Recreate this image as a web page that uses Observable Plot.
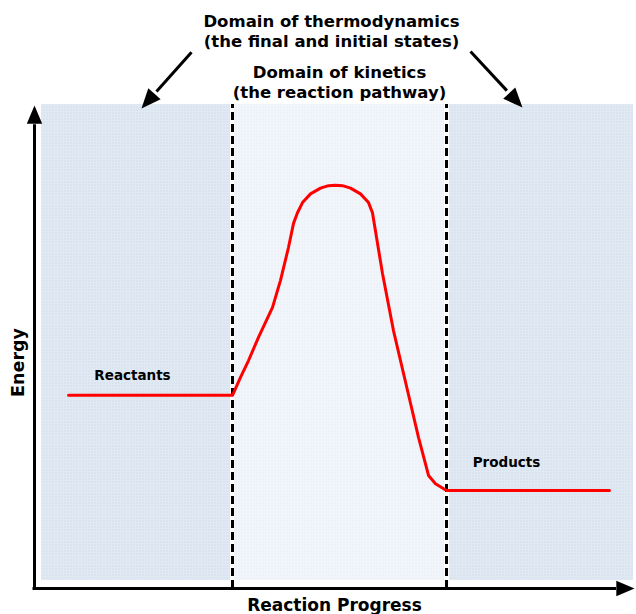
<!DOCTYPE html>
<html>
<head>
<meta charset="utf-8">
<script src="https://cdn.jsdelivr.net/npm/d3@7"></script>
<script src="https://cdn.jsdelivr.net/npm/@observablehq/plot@0.6"></script>
<style>
  html, body { margin: 0; padding: 0; background: #ffffff; }
</style>
</head>
<body>
<div id="chart"></div>
<script>
// ---- data (reaction progress 0–100, energy 0–100) ----
const progress = [5.67, 33, 34.33, 35.67, 37.33, 39.67, 41, 42.33, 43.17, 43.83, 44.67, 46, 47.67, 49, 50.17, 51.33, 52.67, 54.33, 55.67, 56.33, 58, 59.83, 62.17, 64, 65.67, 66.83, 68.67, 95.83];
const energy   = [40.0, 40.0, 43.7, 47.2, 52.0, 58.2, 63.8, 70.6, 75.6, 77.8, 79.9, 81.7, 82.9, 83.4, 83.5, 83.4, 82.9, 81.7, 79.9, 77.8, 65.2, 53.4, 41.0, 31.3, 23.4, 21.7, 20.3, 20.3];

const regionNames = ["thermodynamics", "kinetics", "thermodynamics"];
const regionStart = [1.17, 33.33, 69.17];
const regionEnd   = [32.67, 68.33, 99.83];
const regionBottom = 1.66;
const regionTop = 100.2;
const boundaries = [33, 68.67];

const stateLabels = ["Reactants", "Products"];
const stateX = [16.33, 78.67];
const stateY = [44.1, 26.1];

const titleLines = ["Domain of thermodynamics", "(the final and initial states)", "Domain of kinetics", "(the reaction pathway)"];
const titleX = [49.5, 49.5, 50.83, 50.83];
const titleY = [117.4, 113.3, 106.8, 102.7];

const pointerStartX = [26.17, 72.67];
const pointerStartY = [111.0, 111.2];
const pointerTipX = [17.83, 81.33];
const pointerTipY = [99.4, 99.6];

const xLabel = "Reaction Progress";
const yLabel = "Energy";

// ---- build tables ----
const curve = progress.map((p, i) => ({p, e: energy[i]}));
const regions = regionNames.map((n, i) => ({n, x1: regionStart[i], x2: regionEnd[i]}));
const states = stateLabels.map((t, i) => ({t, x: stateX[i], y: stateY[i]}));
const titles = titleLines.map((t, i) => ({t, x: titleX[i], y: titleY[i]}));

const W = 636, H = 614, ML = 34, MR = 2, MT = 105, MB = 26;
const kx = (W - ML - MR) / 100, ky = (H - MT - MB) / 100;
const angle = (dx, dy) => Math.atan2(dx * kx, dy * ky) * 180 / Math.PI;

const pointers = pointerStartX.map((sx, i) => {
  const tx = pointerTipX[i], ty = pointerTipY[i], sy = pointerStartY[i];
  return {sx, sy, tx, ty,
    ex: tx + (sx - tx) * 0.3, ey: ty + (sy - ty) * 0.3,
    rot: angle(tx - sx, ty - sy)};
});
const heads = [
  ...pointers.map(d => ({x: d.tx, y: d.ty, rot: d.rot, r: 7.5})),
  {x: 0, y: 100, rot: 0, r: 7},
  {x: 100, y: 0, rot: 90, r: 7}
];

const headSymbol = {
  draw(ctx, size) {
    const r = Math.sqrt(size / Math.PI);
    const h = 2.6 * r, w = 1.1 * r;
    ctx.moveTo(0, 0);
    ctx.lineTo(w, h);
    ctx.lineTo(-w, h);
    ctx.closePath();
  }
};

const chart = Plot.plot({
  width: W, height: H,
  marginLeft: ML, marginRight: MR, marginTop: MT, marginBottom: MB,
  x: {domain: [0, 100], axis: null},
  y: {domain: [0, 100], axis: null},
  r: {type: "identity"},
  style: {fontFamily: "'DejaVu Sans', Verdana, sans-serif", background: "#ffffff", overflow: "visible"},
  marks: [
    Plot.rectY(regions, {x1: "x1", x2: "x2", y1: regionBottom, y2: regionTop,
      fill: d => d.n === "kinetics" ? "url(#gridKin)" : "url(#gridThermo)"}),
    Plot.ruleX(boundaries, {y1: 0, y2: regionTop, stroke: "#000", strokeWidth: 3, strokeDasharray: "8,4"}),
    Plot.line(curve, {x: "p", y: "e", stroke: "#ff0000", strokeWidth: 3, strokeLinejoin: "round"}),
    Plot.ruleX([0], {y1: -0.3, y2: 96, stroke: "#000", strokeWidth: 3}),
    Plot.ruleY([0], {x1: -0.25, x2: 97, stroke: "#000", strokeWidth: 3}),
    Plot.link(pointers, {x1: "sx", y1: "sy", x2: "ex", y2: "ey", stroke: "#000", strokeWidth: 3}),
    Plot.dot(heads, {x: "x", y: "y", rotate: "rot", symbol: headSymbol, r: "r", fill: "#000", stroke: "none"}),
    Plot.text(states, {x: "x", y: "y", text: "t", fontSize: 13.5, fontWeight: "bold", fill: "#000"}),
    Plot.text(titles, {x: "x", y: "y", text: "t", fontSize: 16.5, fontWeight: "bold", fill: "#000"}),
    Plot.text([xLabel], {x: 50, y: -3.6, text: d => d, fontSize: 17, fontWeight: "bold", fill: "#000"}),
    Plot.text([yLabel], {x: -2.7, y: 46.8, text: d => d, rotate: -90, fontSize: 17.5, fontWeight: "bold", fill: "#000"})
  ]
});

// subtle fine-grid texture used by the shaded regions
const ns = "http://www.w3.org/2000/svg";
const defs = document.createElementNS(ns, "defs");
function makePattern(id, base, line) {
  const p = document.createElementNS(ns, "pattern");
  p.setAttribute("id", id);
  p.setAttribute("width", 3);
  p.setAttribute("height", 3);
  p.setAttribute("patternUnits", "userSpaceOnUse");
  const r = document.createElementNS(ns, "rect");
  r.setAttribute("width", 3); r.setAttribute("height", 3); r.setAttribute("fill", base);
  const l = document.createElementNS(ns, "path");
  l.setAttribute("d", "M0,0.5H3M0.5,0V3");
  l.setAttribute("stroke", line); l.setAttribute("stroke-width", 1);
  p.appendChild(r); p.appendChild(l);
  defs.appendChild(p);
}
makePattern("gridThermo", "#dae4f0", "#e1e9f3");
makePattern("gridKin", "#edf2f8", "#f2f5fa");
chart.insertBefore(defs, chart.firstChild);

document.getElementById("chart").appendChild(chart);
</script>
</body>
</html>
